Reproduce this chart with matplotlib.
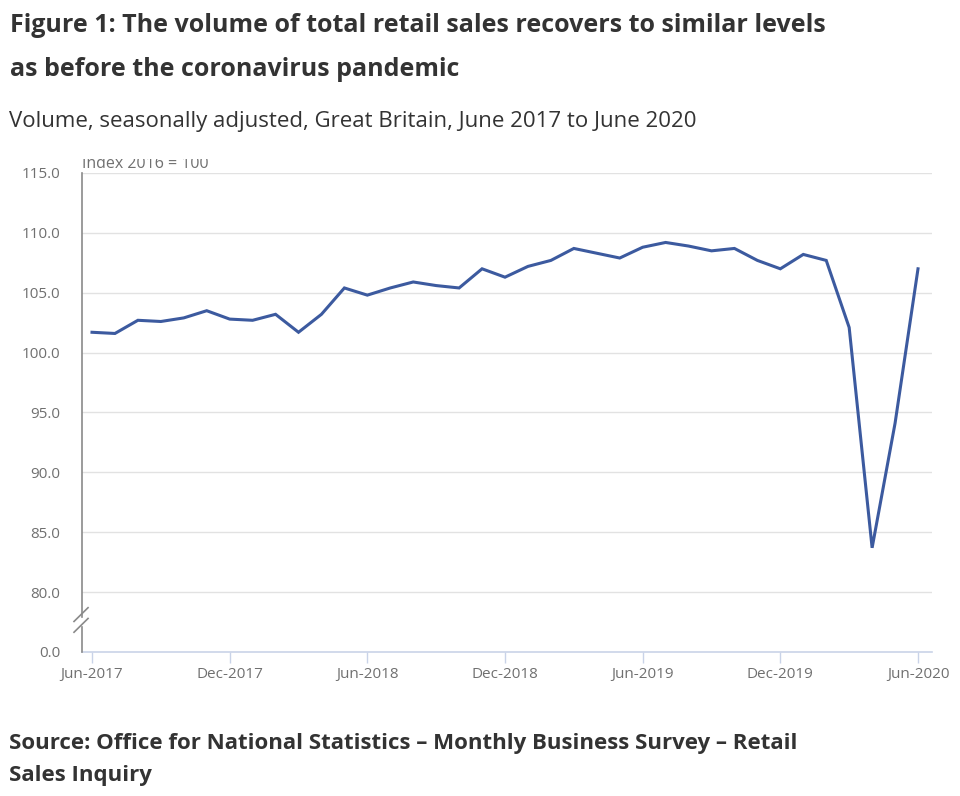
import matplotlib
matplotlib.use("Agg")
import matplotlib.pyplot as plt
import matplotlib.transforms as mtransforms

# Volume of retail sales, index 2016 = 100, Jun-2017 .. Jun-2020
months = ["Jun-2017", "Jul-2017", "Aug-2017", "Sep-2017", "Oct-2017", "Nov-2017",
          "Dec-2017", "Jan-2018", "Feb-2018", "Mar-2018", "Apr-2018", "May-2018",
          "Jun-2018", "Jul-2018", "Aug-2018", "Sep-2018", "Oct-2018", "Nov-2018",
          "Dec-2018", "Jan-2019", "Feb-2019", "Mar-2019", "Apr-2019", "May-2019",
          "Jun-2019", "Jul-2019", "Aug-2019", "Sep-2019", "Oct-2019", "Nov-2019",
          "Dec-2019", "Jan-2020", "Feb-2020", "Mar-2020", "Apr-2020", "May-2020",
          "Jun-2020"]
volume = [101.7, 101.6, 102.7, 102.6, 102.9, 103.5,
          102.8, 102.7, 103.2, 101.7, 103.2, 105.4,
          104.8, 105.4, 105.9, 105.6, 105.4, 107.0,
          106.3, 107.2, 107.7, 108.7, 108.3, 107.9,
          108.8, 109.2, 108.9, 108.5, 108.7, 107.7,
          107.0, 108.2, 107.7, 102.1, 83.7, 94.1,
          107.0]

ytick_vals = [75, 80, 85, 90, 95, 100, 105, 110, 115]
ytick_labels = ["0.0", "80.0", "85.0", "90.0", "95.0", "100.0", "105.0", "110.0", "115.0"]
xtick_labels = ["Jun-2017", "Dec-2017", "Jun-2018", "Dec-2018", "Jun-2019", "Dec-2019", "Jun-2020"]

plt.rcParams['font.family'] = ['Open Sans', 'DejaVu Sans']

fig = plt.figure(figsize=(9.6, 7.96), dpi=100)
ax = fig.add_axes([82/960, 1 - 652/796, 850/960, 479/796])

x = list(range(len(volume)))
ax.plot(x, volume, color='#3c5a9f', lw=2.2, solid_joinstyle='miter', zorder=3)

ax.set_xlim(-0.436, 36.61)
ax.set_ylim(75, 115)

# horizontal gridlines (not at the broken zero line)
for v in ytick_vals[1:]:
    ax.axhline(v, color='#e2e2e2', lw=1, zorder=1)

ax.set_yticks(ytick_vals)
ax.set_yticklabels(ytick_labels)
ax.tick_params(axis='y', length=0, pad=15.5, labelsize=11, labelcolor='#707070')

xt = [months.index(m) for m in xtick_labels]
ax.set_xticks(xt)
ax.set_xticklabels(xtick_labels)
ax.tick_params(axis='x', length=8, width=1, color='#c9d3e8', pad=3,
               labelsize=11, labelcolor='#707070')

for s in ['top', 'right', 'left']:
    ax.spines[s].set_visible(False)
ax.spines['bottom'].set_color('#c9d3e8')
ax.spines['bottom'].set_linewidth(1.2)

# left axis with break marks
yax = mtransforms.blended_transform_factory(ax.transAxes, ax.transData)
spine_kw = dict(color='#8a8a8a', lw=1.2, transform=yax, clip_on=False, zorder=4)
ax.plot([0, 0], [115, 77.95], **spine_kw)
ax.plot([0, 0], [77.05, 75], **spine_kw)
ax.plot([-0.0094, 0.0071], [77.55, 78.7], **spine_kw)
ax.plot([-0.0094, 0.0071], [76.65, 77.8], **spine_kw)

# unit label, top cut off like the original
t = fig.text(82/960, 1 - 168.5/796, "Index 2016 = 100", fontsize=11.5,
             color='#707070', ha='left', va='baseline')
t.set_clip_box(mtransforms.TransformedBbox(
    mtransforms.Bbox.from_extents(0, 0, 1, 1 - 159/796), fig.transFigure))
t.set_clip_on(True)

fig.text(10/960, 1 - 25/796,
         "Figure 1: The volume of total retail sales recovers to similar levels",
         fontsize=18, fontweight='bold', color='#333333', va='center', ha='left')
fig.text(10/960, 1 - 70/796, "as before the coronavirus pandemic",
         fontsize=18, fontweight='bold', color='#333333', va='center', ha='left')
fig.text(9/960, 1 - 121/796,
         "Volume, seasonally adjusted, Great Britain, June 2017 to June 2020",
         fontsize=16, color='#333333', va='center', ha='left')
fig.text(9/960, 1 - 743/796,
         "Source: Office for National Statistics \u2013 Monthly Business Survey \u2013 Retail",
         fontsize=16, fontweight='bold', color='#333333', va='center', ha='left')
fig.text(9/960, 1 - 775/796, "Sales Inquiry",
         fontsize=16, fontweight='bold', color='#333333', va='center', ha='left')

fig.savefig("out.png", dpi=100)
